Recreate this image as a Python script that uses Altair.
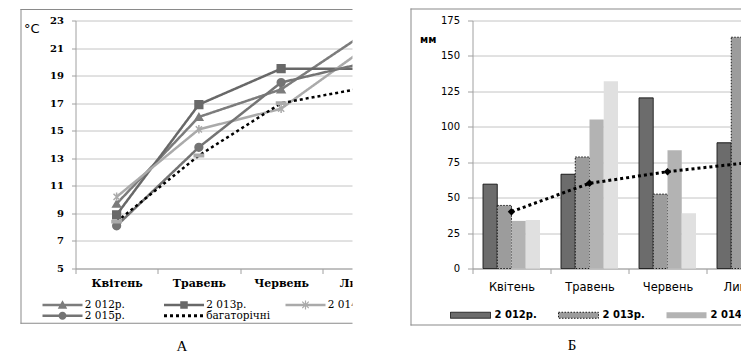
import altair as alt
import pandas as pd

# ---------------- data ----------------
months = ["Квітень", "Травень", "Червень", "Липень"]
series = ["2 012р.", "2 013р.", "2 014р.", "2 015р.", "багаторічні"]
panel_labels = ["А", "Б"]

# Panel А: air temperature, °C
temp_2012 = [9.7, 16.0, 18.0, 22.0]
temp_2013 = [8.9, 16.9, 19.5, 19.5]
temp_2014 = [10.2, 15.1, 16.6, 20.9]
temp_2015 = [8.1, 13.8, 18.5, 19.9]
temp_norm = [8.4, 13.2, 17.0, 18.1]
temp_ticks = [5, 7, 9, 11, 13, 15, 17, 19, 21, 23]

# Panel Б: precipitation, mm (July 2014 / 2015 lie outside the picture)
rain_2012 = [59.5, 66.5, 120.4, 88.7]
rain_2013 = [44.5, 78.7, 52.5, 163.2]
rain_2014 = [33.6, 105.2, 83.4]
rain_2015 = [34.3, 132.2, 39.0]
rain_norm = [40.1, 60.1, 68.3, 74.5]
rain_ticks = [0, 25, 50, 75, 100, 125, 150, 175]


def long_table(names, columns):
    rows = []
    for si, (s, vals) in enumerate(zip(names, columns)):
        for mi, v in enumerate(vals):
            rows.append({"month": months[mi], "mi": mi, "series": s, "si": si, "value": v})
    return pd.DataFrame(rows)


temp_df = long_table(series, [temp_2012, temp_2013, temp_2014, temp_2015, temp_norm])
bar_series = series[:4]
rain_df = long_table(bar_series, [rain_2012, rain_2013, rain_2014, rain_2015])
norm_df = long_table([series[4]], [rain_norm])
one = pd.DataFrame({"k": [0]})

# ---------------- styles ----------------
AX = "#a0a0a0"
GRID = "#c4c4c4"
FRAME = "#8a8a8a"

line_colors = ["#7c7c7c", "#686868", "#aaaaaa", "#747474", "#000000"]
line_dash = [[1, 0], [1, 0], [1, 0], [1, 0], [3, 3]]
STAR = "M-0.8,-0.8L0.8,0.8M-0.8,0.8L0.8,-0.8M0,-1.1L0,1.1"
DASH = "M-1.2,-0.3H1.2V0.3H-1.2Z"
marker_shapes = ["triangle-up", "square", STAR, "circle", DASH]
marker_fill = ["#7c7c7c", "#686868", "transparent", "#747474", "#aaaaaa"]
marker_stroke = ["#7c7c7c", "#686868", "#aaaaaa", "#747474", "#aaaaaa"]

# legend symbols, drawn as filled outlines (unit = 5px at symbolSize 100):
# a 40px thick line with the series marker in its middle
BAR = "M-4,-0.25H4V0.25H-4Z"
DOTS = " ".join(f"M{x:.1f},-0.3h0.6v0.6h-0.6Z" for x in [-4.0, -2.8, -1.6, -0.4, 0.8, 2.0, 3.2])
legend_paths = [
    BAR + "M0,-0.95L0.95,0.75L-0.95,0.75Z",
    BAR + "M-0.75,-0.75H0.75V0.75H-0.75Z",
    BAR + "M-0.12,-0.9H0.12V0.9H-0.12Z"
          "M-0.565,-0.735L0.735,0.565L0.565,0.735L-0.735,-0.565Z"
          "M-0.735,0.565L0.565,-0.735L0.735,-0.565L-0.565,0.735Z",
    BAR + "M0.8,0A0.8,0.8 0 1,1 -0.8,0A0.8,0.8 0 1,1 0.8,0Z",
    DOTS,
]
legend_fill = line_colors

bar_fill = ["#6c6c6c", "#9c9c9c", "#b3b3b3", "#e0e0e0"]
bar_stroke = ["#1a1a1a", "#1a1a1a", "transparent", "transparent"]
bar_dash = [[1, 0], [1.5, 1.5], [1, 0], [1, 0]]
RECT = "M-4,-0.6H4V0.6H-4Z"

W_A, W_B, H = 329, 312, 248


def frame(x0, x1, y0, y1):
    """Cropped chart-area border: left, top and bottom edges as thin filled strips."""
    base = alt.Chart(one).mark_rect(color=FRAME)
    return [
        base.encode(x=alt.value(x0 - 0.5), x2=alt.value(x0 + 0.5), y=alt.value(y0 - 0.5), y2=alt.value(y1 + 0.5)),
        base.encode(x=alt.value(x0 - 0.5), x2=alt.value(x1), y=alt.value(y0 - 0.5), y2=alt.value(y0 + 0.5)),
        base.encode(x=alt.value(x0 - 0.5), x2=alt.value(x1), y=alt.value(y1 - 0.5), y2=alt.value(y1 + 0.5)),
    ]


# ---------------- panel А ----------------
def x_a(center=True):
    kw = dict(bandPosition=0.5) if center else {}
    return alt.X(
        "month:N", sort=months,
        scale=alt.Scale(type="band", domain=months, paddingInner=0, paddingOuter=0),
        axis=alt.Axis(title=None, labelAngle=0, tickBand="extent", tickSize=5, tickColor=AX,
                      domainColor=AX, grid=False, labelFont="DejaVu Serif", labelFontWeight="bold",
                      labelFontSize=11, labelColor="black", labelPadding=4),
        **kw)


y_a = alt.Y(
    "value:Q", scale=alt.Scale(domain=[5, 23], nice=False, zero=False),
    axis=alt.Axis(values=temp_ticks, title="°C", titleAngle=0, titleX=-52, titleY=8,
                  titleAlign="left", titleBaseline="middle", titleFont="DejaVu Sans",
                  titleFontSize=13, titleFontWeight="normal", titleColor="black",
                  labelFont="DejaVu Serif", labelFontWeight="bold", labelFontSize=10,
                  labelColor="black", tickSize=4, labelPadding=8, tickColor=AX,
                  domainColor=AX, gridColor=GRID))

leg_a = dict(title=None, orient="none", legendX=-33, legendY=279, direction="horizontal",
             columns=3, gridAlign="all", columnPadding=14.5, rowPadding=0, symbolSize=100,
             symbolStrokeWidth=0, symbolOpacity=1, symbolOffset=14.75,
             labelFont="DejaVu Serif", labelFontSize=10.5, labelColor="black",
             labelOffset=17, padding=0)

lines_a = alt.Chart(temp_df).mark_line(strokeWidth=2.5).encode(
    x=x_a(), y=y_a, order=alt.Order("mi:Q"),
    color=alt.Color("series:N", scale=alt.Scale(domain=series, range=line_colors), legend=None),
    strokeDash=alt.StrokeDash("series:N", scale=alt.Scale(domain=series, range=line_dash), legend=None))

points_a = alt.Chart(temp_df).mark_point(filled=False, size=60, strokeWidth=1.5, opacity=1).encode(
    x=x_a(), y=y_a,
    shape=alt.Shape("series:N", scale=alt.Scale(domain=series, range=marker_shapes), legend=None),
    fill=alt.Fill("series:N", scale=alt.Scale(domain=series, range=marker_fill), legend=None),
    stroke=alt.Stroke("series:N", scale=alt.Scale(domain=series, range=marker_stroke), legend=None))

legend_a = alt.Chart(temp_df[temp_df["mi"] == 0]).mark_point(filled=True, size=100, opacity=0).encode(
    x=x_a(), y=y_a,
    shape=alt.Shape("series:N", scale=alt.Scale(domain=series, range=legend_paths), legend=alt.Legend(**leg_a)),
    fill=alt.Fill("series:N", scale=alt.Scale(domain=series, range=legend_fill), legend=alt.Legend(**leg_a)))

cap_a = alt.Chart(pd.DataFrame({"t": [panel_labels[0]]})).mark_text(
    font="Liberation Serif", fontSize=15, align="center", baseline="middle", color="black").encode(
    text="t:N", x=alt.value(106.5), y=alt.value(325))

panel_a = alt.layer(*frame(-54.5, 320, -11, 302.8), lines_a, points_a, legend_a, cap_a).resolve_scale(
    shape="independent", fill="independent", stroke="independent", strokeDash="independent"
).properties(width=W_A, height=H)

# ---------------- panel Б ----------------
def x_b(center=False):
    kw = dict(bandPosition=0.5) if center else {}
    return alt.X(
        "month:N", sort=months,
        scale=alt.Scale(type="band", domain=months, paddingInner=0, paddingOuter=0),
        axis=alt.Axis(title=None, labelAngle=0, tickBand="extent", tickSize=5, tickColor=AX,
                      domainColor=AX, grid=False, labelFont="DejaVu Sans", labelFontSize=11.5,
                      labelColor="black", labelPadding=8),
        **kw)


y_b = alt.Y(
    "value:Q", scale=alt.Scale(domain=[0, 175], nice=False),
    axis=alt.Axis(values=rain_ticks, title="мм", titleAngle=0, titleX=-53, titleY=19,
                  titleAlign="left", titleBaseline="middle", titleFont="DejaVu Sans",
                  titleFontSize=10, titleFontWeight="bold", titleColor="black",
                  labelFont="DejaVu Sans", labelFontSize=10, labelColor="black", tickSize=5,
                  labelPadding=8, tickColor=AX, domainColor=AX, gridColor=GRID))

leg_b = dict(title=None, orient="none", legendX=-22, legendY=289, direction="horizontal",
             columns=5, gridAlign="all", columnPadding=19, symbolType=RECT, symbolSize=100,
             symbolStrokeWidth=1, symbolOpacity=1, symbolOffset=14.5,
             labelFont="DejaVu Sans", labelFontWeight="bold",
             labelFontSize=10, labelColor="black", labelOffset=18.5, padding=0)

bars_b = alt.Chart(rain_df).mark_bar(strokeWidth=1).encode(
    x=x_b(), y=y_b,
    xOffset=alt.XOffset("series:N", scale=alt.Scale(domain=bar_series, paddingInner=0, paddingOuter=0.737)),
    fill=alt.Fill("series:N", scale=alt.Scale(domain=bar_series, range=bar_fill), legend=alt.Legend(**leg_b)),
    stroke=alt.Stroke("series:N", scale=alt.Scale(domain=bar_series, range=bar_stroke), legend=alt.Legend(**leg_b)),
    strokeDash=alt.StrokeDash("series:N", scale=alt.Scale(domain=bar_series, range=bar_dash), legend=alt.Legend(**leg_b)))

norm_line_b = alt.Chart(norm_df).mark_line(color="black", strokeWidth=3, strokeDash=[3, 3]).encode(
    x=x_b(True), y=y_b, order=alt.Order("mi:Q"))

norm_pts_b = alt.Chart(norm_df).mark_point(shape="diamond", filled=True, color="black", size=55, opacity=1).encode(
    x=x_b(True), y=y_b)

cap_b = alt.Chart(pd.DataFrame({"t": [panel_labels[1]]})).mark_text(
    font="Liberation Serif", fontSize=15, align="center", baseline="middle", color="black").encode(
    text="t:N", x=alt.value(99.5), y=alt.value(324.5))

# white band that hides panel А beyond its cropped right edge
cover_b = alt.Chart(one).mark_rect(color="white").encode(
    x=alt.value(-120), x2=alt.value(-63), y=alt.value(-25), y2=alt.value(345))

panel_b = alt.layer(*frame(-61.5, 330, -11.5, 304.5), bars_b, norm_line_b, norm_pts_b, cap_b, cover_b
                    ).properties(width=W_B, height=H)

chart = alt.hconcat(panel_a, panel_b, spacing=68, bounds="flush").resolve_scale(
    color="independent", fill="independent", stroke="independent",
    strokeDash="independent", shape="independent"
).configure_view(stroke=None).properties(
    autosize=alt.AutoSizeParams(type="none"),
    padding={"left": 67.5, "top": 12.5, "right": 665.5, "bottom": 330.5},
    background="white")

chart.save("out.html", embed_options={"renderer": "svg", "actions": False})
